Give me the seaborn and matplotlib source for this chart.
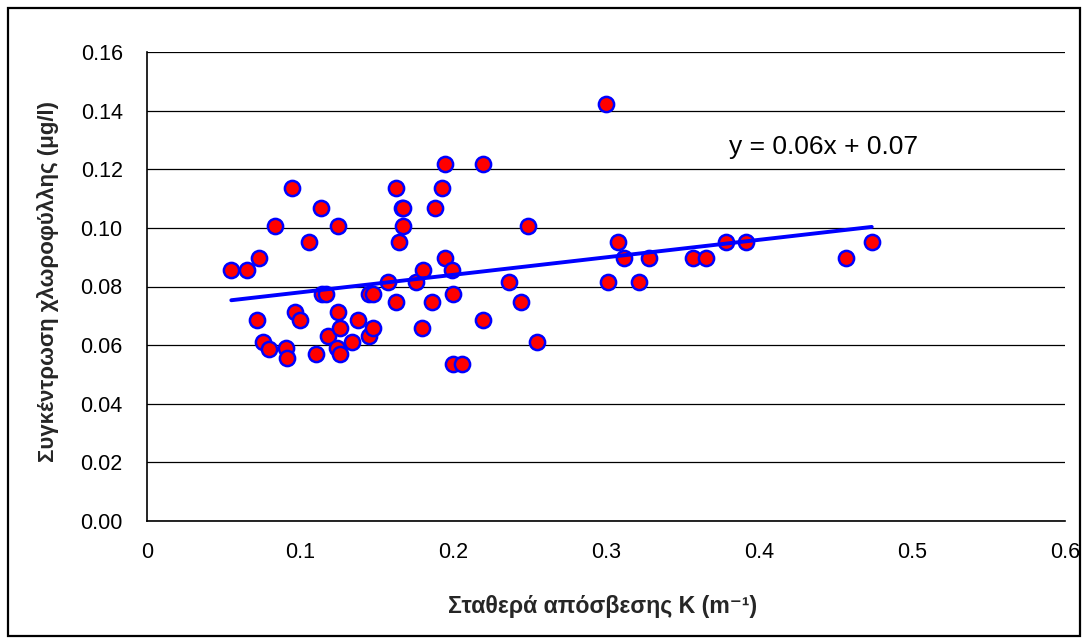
import matplotlib
matplotlib.use("Agg")
import matplotlib.pyplot as plt
from matplotlib.patches import Rectangle
import numpy as np
import pandas as pd
import seaborn as sns

# Light extinction coefficient K (m^-1)
k_values = [
    0.0551, 0.0656, 0.0734, 0.0721, 0.0760, 0.0800, 0.0839, 0.0906, 0.0917, 0.0946,
    0.0969, 0.0998, 0.1061, 0.1102, 0.1139, 0.1142, 0.1170, 0.1181, 0.1246, 0.1246,
    0.1259, 0.1244, 0.1259, 0.1338, 0.1377, 0.1453, 0.1479, 0.1453, 0.1479, 0.1573,
    0.1625, 0.1625, 0.1649, 0.1665, 0.1675, 0.1675, 0.1756, 0.1795, 0.1806, 0.1861,
    0.1884, 0.1926, 0.1950, 0.1950, 0.1993, 0.2002, 0.2002, 0.2057, 0.2198, 0.2198,
    0.2368, 0.2447, 0.2488, 0.2551, 0.2998, 0.3013, 0.3076, 0.3118, 0.3216, 0.3283,
    0.3571, 0.3652, 0.3782, 0.3913, 0.4567, 0.4737,
]

# Chlorophyll concentration (ug/l)
chl_values = [
    0.0855, 0.0855, 0.0896, 0.0686, 0.0611, 0.0588, 0.1006, 0.0590, 0.0555, 0.1135,
    0.0712, 0.0686, 0.0951, 0.0569, 0.1067, 0.0773, 0.0773, 0.0631, 0.1006, 0.0712,
    0.0657, 0.0591, 0.0569, 0.0610, 0.0686, 0.0773, 0.0773, 0.0631, 0.0657, 0.0814,
    0.1135, 0.0746, 0.0951, 0.1067, 0.1067, 0.1006, 0.0814, 0.0657, 0.0855, 0.0746,
    0.1067, 0.1135, 0.1217, 0.0896, 0.0855, 0.0773, 0.0535, 0.0535, 0.1217, 0.0686,
    0.0814, 0.0746, 0.1006, 0.0610, 0.1422, 0.0814, 0.0951, 0.0896, 0.0814, 0.0896,
    0.0896, 0.0896, 0.0951, 0.0951, 0.0896, 0.0951,
]

x_ticks = [0, 0.1, 0.2, 0.3, 0.4, 0.5, 0.6]
x_tick_labels = ["0", "0.1", "0.2", "0.3", "0.4", "0.5", "0.6"]
y_ticks = [0.00, 0.02, 0.04, 0.06, 0.08, 0.10, 0.12, 0.14, 0.16]
y_tick_labels = ["0.00", "0.02", "0.04", "0.06", "0.08", "0.10", "0.12", "0.14", "0.16"]

x_label = "Σταθερά απόσβεσης K (m⁻¹)"
y_label = "Συγκέντρωση χλωροφύλλης (μg/l)"

df = pd.DataFrame({"K": k_values, "chl": chl_values})

sns.set_style("white")
plt.rcParams["font.family"] = ["Liberation Sans", "DejaVu Sans"]

fig = plt.figure(figsize=(10.88, 6.44), dpi=100)
ax = fig.add_axes([147 / 1088, 1 - 521 / 644, (1065 - 147) / 1088, (521 - 52) / 644])

# Horizontal gridlines
ax.set_axisbelow(True)
ax.yaxis.grid(True, color="black", linewidth=0.9)
ax.xaxis.grid(False)

sns.scatterplot(data=df, x="K", y="chl", ax=ax, s=120, color="#FF0000",
                edgecolor="#0000FF", linewidth=1.8, zorder=3, legend=False)

# Linear trendline through the data
slope, intercept = np.polyfit(df["K"], df["chl"], 1)
sns.regplot(data=df, x="K", y="chl", ax=ax, scatter=False, ci=None, truncate=True,
            line_kws={"color": "#0000FF", "linewidth": 2.8, "zorder": 4})

ax.text(0.3804, 0.1252, f"y = {slope:.2f}x + {intercept:.2f}", fontsize=19,
        color="black", ha="left", va="baseline")

ax.set_xlim(0, 0.6)
ax.set_ylim(0, 0.16)
ax.set_xticks(x_ticks)
ax.set_xticklabels(x_tick_labels)
ax.set_yticks(y_ticks)
ax.set_yticklabels(y_tick_labels)
ax.tick_params(axis="both", direction="out", length=6, width=1, color="black",
               labelsize=15.5, labelcolor="black")
ax.tick_params(axis="x", pad=9)
ax.tick_params(axis="y", pad=11.5)

for side in ["top", "right"]:
    ax.spines[side].set_visible(False)
for side in ["left", "bottom"]:
    ax.spines[side].set_color("black")
    ax.spines[side].set_linewidth(1.2)

ax.set_xlabel(x_label, fontsize=16.7, fontweight="bold", va="center")
ax.xaxis.set_label_coords(0.496, (521 - 607) / 469)
ax.set_ylabel(y_label, fontsize=16, fontweight="bold", va="center")
ax.yaxis.set_label_coords((48 - 147) / 918, (521 - 282) / 469)

# Chart frame around the whole figure
fig.patches.append(Rectangle((8 / 1088, 8 / 644), 1072 / 1088, 628 / 644,
                             transform=fig.transFigure, fill=False,
                             edgecolor="black", linewidth=1.6))

fig.savefig("out.png", dpi=100)
